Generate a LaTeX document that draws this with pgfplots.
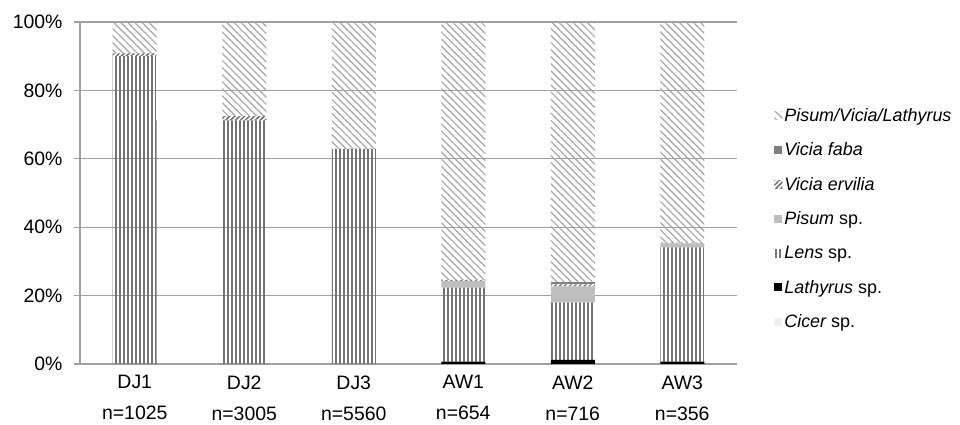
\documentclass[border=0pt]{standalone}
\usepackage{pgfplots}
\pgfplotsset{compat=1.18}
\usepackage{pgfplotstable}
\usetikzlibrary{patterns.meta}
\usepackage{fontspec}
\setmainfont{Liberation Sans}
\definecolor{gridgray}{RGB}{160,160,160}
\definecolor{lensgray}{RGB}{115,115,115}
\definecolor{pvlgray}{RGB}{165,165,165}
\definecolor{fabagray}{RGB}{128,128,128}
\definecolor{ervgray}{RGB}{110,110,110}
\definecolor{pisgray}{RGB}{190,190,190}
\definecolor{cicgray}{RGB}{238,238,238}

% x: 0=DJ1 ... 5=AW3
\pgfplotstableread{
x cicer lathyrus lens pisum ervilia faba pvl
0 0   0    90.0 0   0.8 0   9.2
1 0   0    71.2 0   1.3 0   27.5
2 0   0    62.8 0   0.2 0   37.0
3 0   0.7  21.6 2.0 0.3 0   75.4
4 0   1.2  16.8 4.7 0.6 0.7 76.0
5 0   0.7  33.4 1.2 0.2 0   64.5
}\datatable

\begin{document}
\begin{tikzpicture}
\begin{axis}[
  at={(0,0)}, anchor=south west,
  scale only axis,
  width=657bp, height=342bp,
  xmin=-0.5, xmax=5.5,
  ymin=0, ymax=100,
  ybar stacked,
  bar width=44bp,
  axis lines*=left,
  axis line style={gridgray, line width=1.2bp},
  xtick={0,1,2,3,4,5},
  xticklabels={{DJ1\\[10bp]n=1025},{DJ2\\[10bp]n=3005},{DJ3\\[10bp]n=5560},{AW1\\[10bp]n=654},{AW2\\[10bp]n=716},{AW3\\[10bp]n=356}},
  xticklabel style={align=center, font=\fontsize{19.5}{21}\selectfont, yshift=-2bp},
  xtick style={draw=none},
  ytick={0,20,40,60,80,100},
  yticklabel={\pgfmathprintnumber{\tick}\%},
  yticklabel style={font=\fontsize{19.5}{21}\selectfont, xshift=-8bp},
  /pgf/number format/assume math mode=true,
  tick align=outside,
  major tick length=6bp,
  ytick style={gridgray, line width=1.2bp},
  ymajorgrids,
  grid style={gridgray, line width=1.2bp},
  reverse legend,
  legend cell align=left,
  legend style={draw=none, fill=none, at={(1.052,0.425)}, anchor=west,
    font=\fontsize{18}{20}\selectfont\itshape, row sep=16bp},
  legend image code/.code={\path[#1, draw=none] (-4bp,-4bp) rectangle (4bp,4bp);},
]
\addplot[fill=cicgray, draw=none] table[x=x, y=cicer] {\datatable};
\addlegendentry{Cicer\upshape{} sp.}
\addplot[fill=black, draw=none] table[x=x, y=lathyrus] {\datatable};
\addlegendentry{Lathyrus\upshape{} sp.}
\addplot[draw=none, pattern={Lines[angle=90, distance=4bp, line width=1.6bp]}, pattern color=lensgray] table[x=x, y=lens] {\datatable};
\addlegendentry{Lens\upshape{} sp.}
\addplot[fill=pisgray, draw=none] table[x=x, y=pisum] {\datatable};
\addlegendentry{Pisum\upshape{} sp.}
\addplot[draw=none, pattern={Lines[angle=45, distance=3.5bp, line width=1.5bp]}, pattern color=ervgray] table[x=x, y=ervilia] {\datatable};
\addlegendentry{Vicia ervilia}
\addplot[fill=fabagray, draw=none] table[x=x, y=faba] {\datatable};
\addlegendentry{Vicia faba}
\addplot[draw=none, pattern={Lines[angle=-45, distance=5bp, line width=1.2bp]}, pattern color=pvlgray] table[x=x, y=pvl] {\datatable};
\addlegendentry{Pisum/Vicia/Lathyrus}
\end{axis}
\pgfresetboundingbox
\useasboundingbox (-80bp,-61bp) rectangle (880bp,364bp);
\end{tikzpicture}
\end{document}
